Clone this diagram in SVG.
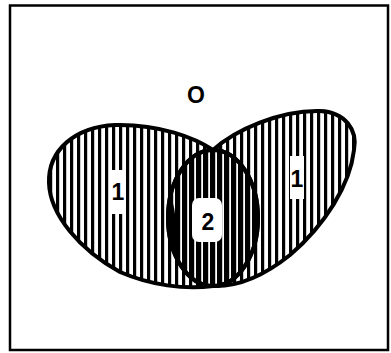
<svg xmlns="http://www.w3.org/2000/svg" width="391" height="353" viewBox="0 0 391 353">
<style>
.outline{fill:none;stroke:#000;stroke-width:4;stroke-linejoin:round}
.lbl{font-family:"Liberation Sans",Arial,sans-serif;font-weight:bold;font-size:23px;fill:#000;text-anchor:middle}
.gap{fill:#fff}
</style>
<defs>
<pattern id="hatchL" patternUnits="userSpaceOnUse" width="7" height="10" x="0" y="0">
<rect x="0" y="0" width="3.2" height="10" fill="#000"/>
</pattern>
<pattern id="hatchR" patternUnits="userSpaceOnUse" width="7" height="10" x="2" y="0">
<rect x="0" y="0" width="3.2" height="10" fill="#000"/>
</pattern>
<path id="shapeL" d="M213,150 C195,138 160,124 115,125 C75,127 48,150 49,183 C50,215 80,250 120,272 C150,285 185,290 213,286 A45 68 0 0 0 213 150 Z"/>
<path id="shapeR" d="M213,150 C235,130 280,110 320,111 C345,112 358,130 354,150 C350,185 325,225 290,255 C265,275 240,287 213,286 A45 68 0 0 1 213 150 Z"/>
</defs>
<rect x="0" y="0" width="391" height="353" fill="#fff"/>
<rect x="10" y="5.5" width="378" height="344.5" fill="none" stroke="#000" stroke-width="2.5"/>
<g id="left">
<use href="#shapeL" fill="url(#hatchL)"/>
</g>
<g id="right">
<use href="#shapeR" fill="url(#hatchR)"/>
</g>
<g id="gaps">
<rect class="gap" x="111" y="170" width="14" height="44"/>
<rect class="gap" x="290" y="156" width="14" height="43"/>
<rect class="gap" x="192" y="198" width="30" height="44" rx="7"/>
</g>
<g id="outlines">
<use href="#shapeL" class="outline"/>
<use href="#shapeR" class="outline"/>
<ellipse id="intersection" cx="213" cy="218" rx="45" ry="68" class="outline"/>
<path d="M172,200 C168,215 168,235 174,252 C177,240 177,215 172,200 Z" fill="#000"/>
</g>
<g id="labels">
<text class="lbl" x="196" y="103">O</text>
<text class="lbl" x="118" y="200">1</text>
<text class="lbl" x="297" y="187">1</text>
<text class="lbl" x="208" y="230">2</text>
</g>
</svg>
